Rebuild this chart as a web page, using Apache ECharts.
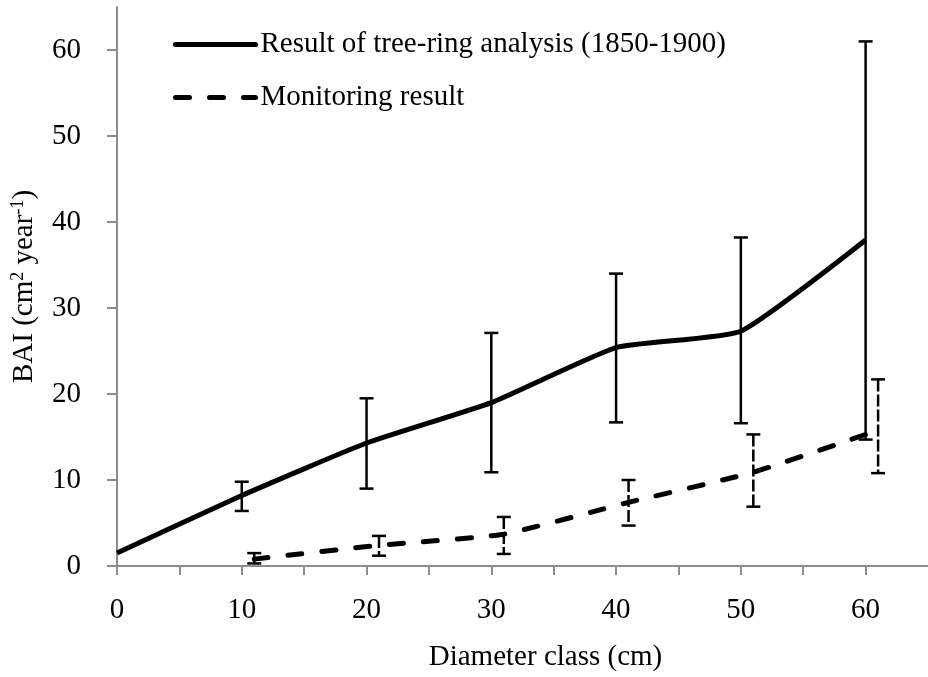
<!DOCTYPE html>
<html>
<head>
<meta charset="utf-8">
<script src="https://cdn.jsdelivr.net/npm/echarts@6/dist/echarts.min.js"></script>
<style>html,body{margin:0;padding:0;background:#fff;}#c{width:928px;height:677px;}</style>
</head>
<body>
<div id="c"></div>
<script>
// Tree-ring analysis (solid)
const xSolid = [0, 10, 20, 30, 40, 50, 60];
const ySolid = [1.5, 8.2, 14.3, 19.0, 25.4, 27.3, 37.9];
const xSolidErr = [10, 20, 30, 40, 50, 60];
const solidLow = [6.4, 9.0, 10.9, 16.7, 16.6, 14.7];
const solidHigh = [9.8, 19.5, 27.1, 34.0, 38.2, 61.0];
// Monitoring result (dashed)
const xDash = [11, 21, 31, 41, 51, 61];
const yDash = [0.8, 2.4, 3.7, 7.4, 10.9, 15.8];
const dashLow = [0.3, 1.2, 1.4, 4.7, 6.9, 10.8];
const dashHigh = [1.5, 3.5, 5.7, 10.0, 15.3, 21.7];
// ticks
const xTicks = [0, 5, 10, 15, 20, 25, 30, 35, 40, 45, 50, 55, 60];
const xLabels = [0, 10, 20, 30, 40, 50, 60];
const yTicks = [0, 10, 20, 30, 40, 50, 60];

const nameSolid = 'Result of tree-ring analysis (1850-1900)';
const nameDash = 'Monitoring result';
const FONT = 'Liberation Serif';

function errRenderer(dashed) {
  return function (params, api) {
    const x = api.value(0), lo = api.value(1), hi = api.value(2);
    const pH = api.coord([x, hi]);
    const pL = api.coord([x, lo]);
    const cap = 7;
    const st = { stroke: '#000', lineWidth: 2.5, lineDash: dashed ? [12, 3] : null };
    return {
      type: 'group',
      children: [
        { type: 'line', shape: { x1: pH[0], y1: pH[1], x2: pL[0], y2: pL[1] }, style: st },
        { type: 'line', shape: { x1: pH[0] - cap, y1: pH[1], x2: pH[0] + cap, y2: pH[1] }, style: { stroke: '#000', lineWidth: 2.5 } },
        { type: 'line', shape: { x1: pL[0] - cap, y1: pL[1], x2: pL[0] + cap, y2: pL[1] }, style: { stroke: '#000', lineWidth: 2.5 } }
      ]
    };
  };
}

const chart = echarts.init(document.getElementById('c'), null, { renderer: 'canvas' });
chart.setOption({
  animation: false,
  backgroundColor: '#fff',
  grid: { left: 117, right: -4, top: 7, bottom: 111 },
  legend: {
    orient: 'vertical',
    left: 173, top: 30, padding: 0,
    itemWidth: 80, itemHeight: 14, itemGap: 24,
    data: [nameSolid, nameDash],
    itemStyle: { opacity: 0 },
    lineStyle: { width: 5, cap: 'round' },
    textStyle: { fontFamily: FONT, fontSize: 29, color: '#000' }
  },
  xAxis: {
    type: 'value', min: 0, max: 65,
    axisLine: { show: true, lineStyle: { color: '#8c8c8c', width: 2 } },
    axisTick: { show: true, length: 9, customValues: xTicks, lineStyle: { color: '#8c8c8c', width: 2 } },
    axisLabel: { customValues: xLabels, margin: 30, fontFamily: FONT, fontSize: 29, color: '#000' },
    splitLine: { show: false },
    name: 'Diameter class (cm)',
    nameLocation: 'middle', nameGap: 77,
    nameTextStyle: { fontFamily: FONT, fontSize: 29, color: '#000', padding: [0, 0, 0, 46] }
  },
  yAxis: {
    type: 'value', min: 0, max: 65,
    axisLine: { show: true, lineStyle: { color: '#8c8c8c', width: 2 } },
    axisTick: { show: true, length: 10, customValues: yTicks, lineStyle: { color: '#8c8c8c', width: 2 } },
    axisLabel: { customValues: yTicks, margin: 36, fontFamily: FONT, fontSize: 29, color: '#000' },
    splitLine: { show: false },
    name: 'BAI (cm{s|2} year{s|-1})',
    nameLocation: 'middle', nameGap: 78,
    nameTextStyle: {
      fontFamily: FONT, fontSize: 29, color: '#000',
      rich: { s: { fontFamily: FONT, fontSize: 18, color: '#000', verticalAlign: 'top', padding: [0, 0, 12, 0] } }
    }
  },
  series: [
    {
      name: nameSolid, type: 'line', symbol: 'none', smooth: 0.15,
      data: xSolid.map((x, i) => [x, ySolid[i]]),
      lineStyle: { color: '#000', width: 5 }, itemStyle: { color: '#000' }, z: 3
    },
    {
      name: nameDash, type: 'line', symbol: 'none', smooth: 0.15,
      data: xDash.map((x, i) => [x, yDash[i]]),
      lineStyle: { color: '#000', width: 5, type: [14, 20], cap: 'round' }, itemStyle: { color: '#000' }, z: 3
    },
    {
      type: 'custom', renderItem: errRenderer(false),
      encode: { x: 0, y: [1, 2] },
      data: xSolidErr.map((x, i) => [x, solidLow[i], solidHigh[i]]), z: 4
    },
    {
      type: 'custom', renderItem: errRenderer(true),
      encode: { x: 0, y: [1, 2] },
      data: xDash.map((x, i) => [x, dashLow[i], dashHigh[i]]), z: 4
    }
  ]
});
</script>
</body>
</html>
